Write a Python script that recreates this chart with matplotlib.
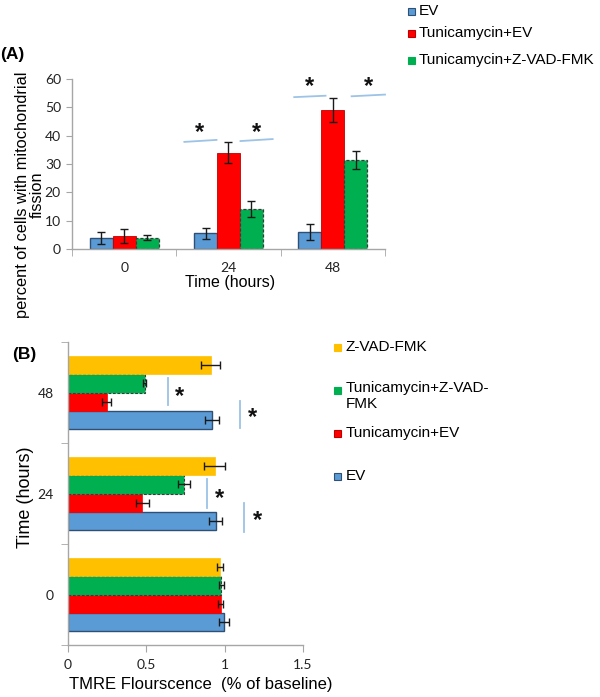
import matplotlib
matplotlib.use("Agg")
import matplotlib.pyplot as plt
import numpy as np
from matplotlib.patches import Rectangle

plt.rcParams['font.family'] = ['Liberation Sans', 'DejaVu Sans']

# ---------------- data ----------------
timepoints = ['0', '24', '48']

# Panel A: percent of cells with mitochondrial fission
a_series = ['EV', 'Tunicamycin+EV', 'Tunicamycin+Z-VAD-FMK']
a_ev = [4.0, 5.5, 6.0]
a_ev_err = [2.1, 2.0, 2.7]
a_tun = [4.6, 34.0, 49.2]
a_tun_err = [2.6, 3.7, 4.2]
a_tz = [4.0, 14.1, 31.5]
a_tz_err = [0.9, 2.8, 3.1]
a_yticks = [0, 10, 20, 30, 40, 50, 60]

# Panel B: TMRE fluorescence (fraction of baseline)
b_series = ['EV', 'Tunicamycin+EV', 'Tunicamycin+Z-VAD-FMK', 'Z-VAD-FMK']
b_ev = [0.996, 0.943, 0.919]
b_ev_err = [0.03, 0.042, 0.045]
b_tun = [0.975, 0.476, 0.250]
b_tun_err = [0.018, 0.042, 0.028]
b_tz = [0.979, 0.743, 0.493]
b_tz_err = [0.015, 0.040, 0.010]
b_z = [0.970, 0.938, 0.913]
b_z_err = [0.018, 0.066, 0.060]
b_xticks = [0, 0.5, 1, 1.5]
b_xticklabels = ['0', '0.5', '1', '1.5']

# ---------------- style ----------------
C_BLUE = '#5B9BD5'
C_RED = '#FF0000'
C_GREEN = '#00B050'
C_YEL = '#FFC000'
E_BLUE = '#2F4F75'
E_GREEN = '#3A3A3A'
SIG = '#9DC3E6'
AXC = '#A6A6A6'
TICKFONT = 'Lato'

W, H = 600, 697
fig = plt.figure(figsize=(W / 100, H / 100), dpi=100)


def fx(px):
    return px / W


def fy(py):
    return 1 - py / H


# ================= Panel A =================
axA = fig.add_axes([fx(72), fy(249), fx(385 - 72), (249 - 79) / H])
x = np.arange(len(timepoints))
bw = 0.22
errkw = dict(ecolor='#1a1a1a', elinewidth=1.0, capsize=3, capthick=1.0)
axA.bar(x - bw, a_ev, bw, yerr=a_ev_err, color=C_BLUE, edgecolor=E_BLUE,
        linewidth=1.0, error_kw=errkw, zorder=2)
axA.bar(x, a_tun, bw, yerr=a_tun_err, color=C_RED, edgecolor='#C00000',
        linewidth=0.6, error_kw=errkw, zorder=2)
axA.bar(x + bw, a_tz, bw, yerr=a_tz_err, color=C_GREEN, edgecolor=E_GREEN,
        linewidth=0.9, linestyle=(0, (2.5, 1.5)), error_kw=errkw, zorder=2)

axA.set_xlim(-0.5, 2.5)
axA.set_ylim(0, 60)
axA.set_yticks(a_yticks)
axA.set_xticks(x)
axA.set_xticklabels(timepoints)
axA.set_xticks([-0.5, 0.5, 1.5, 2.5], minor=True)
axA.tick_params(axis='x', which='major', length=0, pad=9.5)
axA.tick_params(axis='x', which='minor', length=5, color=AXC, direction='out')
axA.tick_params(axis='y', length=4, color=AXC, pad=4)
for lab in axA.get_xticklabels() + axA.get_yticklabels():
    lab.set_fontfamily(TICKFONT)
    lab.set_fontsize(10)
    lab.set_color('#222222')
for s in ['top', 'right']:
    axA.spines[s].set_visible(False)
for s in ['left', 'bottom']:
    axA.spines[s].set_color(AXC)
    axA.spines[s].set_linewidth(1.0)

axA.set_xlabel('Time (hours)', fontsize=11.5)
axA.xaxis.set_label_coords((230 - 72) / 313, (249 - 283) / 170)
axA.xaxis.label.set_va('center')
axA.set_ylabel('percent of cells with mitochondrial\nfission', fontsize=11.8,
               linespacing=0.95)
axA.yaxis.set_label_coords((30 - 72) / 313, (249 - 195) / 170)
axA.yaxis.label.set_va('center')

# significance marks panel A
sigA_lines = [((0.577, 0.885), (37.8, 38.5)), ((1.115, 1.423), (38.1, 38.8)),
              ((1.63, 1.93), (53.6, 54.1)), ((2.18, 2.50), (53.9, 54.5))]
sigA_stars = [(0.72, 41.0), (1.27, 41.0), (1.78, 57.3), (2.34, 57.3)]
for xs, ys in sigA_lines:
    axA.plot(xs, ys, color=SIG, lw=1.3, clip_on=False, zorder=3)
for sx, sy in sigA_stars:
    axA.text(sx, sy, '*', ha='center', va='center', fontsize=17,
             fontweight='bold', color='#111111', clip_on=False)

fig.text(fx(0), fy(55), '(A)', fontsize=12.5, fontweight='bold',
         ha='left', va='center')

# legend A
legA_y = [11, 33.5, 60]
legA_face = [C_BLUE, C_RED, C_GREEN]
legA_edge = [E_BLUE, '#C00000', C_GREEN]
for lab, yy, fc, ec in zip(a_series, legA_y, legA_face, legA_edge):
    fig.add_artist(Rectangle((fx(407.5), fy(yy + 3.5)), fx(7), 7 / H,
                             facecolor=fc, edgecolor=ec, lw=0.8,
                             transform=fig.transFigure))
    fig.text(fx(419), fy(yy), lab, fontsize=11, ha='left', va='center')

# ================= Panel B =================
axB = fig.add_axes([fx(67.5), fy(645), fx(303 - 67.5), (645 - 342) / H])
bh = 0.182
errkwB = dict(ecolor='#1a1a1a', elinewidth=1.0, capsize=3, capthick=1.0)
axB.barh(x - 1.5 * bh, b_ev, bh, xerr=b_ev_err, color=C_BLUE,
         edgecolor=E_BLUE, linewidth=1.0, error_kw=errkwB, zorder=2)
axB.barh(x - 0.5 * bh, b_tun, bh, xerr=b_tun_err, color=C_RED,
         edgecolor=C_RED, linewidth=0.5, error_kw=errkwB, zorder=2)
axB.barh(x + 0.5 * bh, b_tz, bh, xerr=b_tz_err, color=C_GREEN,
         edgecolor=E_GREEN, linewidth=0.8, linestyle=(0, (2.5, 1.5)),
         error_kw=errkwB, zorder=2)
axB.barh(x + 1.5 * bh, b_z, bh, xerr=b_z_err, color=C_YEL,
         edgecolor=C_YEL, linewidth=0.5, error_kw=errkwB, zorder=2)

axB.set_xlim(0, 1.5)
axB.set_ylim(-0.5, 2.5)
axB.set_xticks(b_xticks)
axB.set_xticklabels(b_xticklabels)
axB.set_yticks(x)
axB.set_yticklabels(timepoints)
axB.set_yticks([-0.5, 0.5, 1.5, 2.5], minor=True)
axB.tick_params(axis='y', which='major', length=0, pad=10)
axB.tick_params(axis='y', which='minor', length=5, color=AXC)
axB.tick_params(axis='x', length=5, color=AXC, pad=5)
for lab in axB.get_xticklabels() + axB.get_yticklabels():
    lab.set_fontfamily(TICKFONT)
    lab.set_fontsize(10)
    lab.set_color('#222222')
for s in ['top', 'right']:
    axB.spines[s].set_visible(False)
for s in ['left', 'bottom']:
    axB.spines[s].set_color(AXC)
    axB.spines[s].set_linewidth(1.0)

axB.set_xlabel('TMRE Flourscence  (% of baseline)', fontsize=12)
axB.xaxis.set_label_coords((201 - 67.5) / 235.5, (645 - 685) / 303)
axB.xaxis.label.set_va('center')
axB.set_ylabel('Time (hours)', fontsize=13)
axB.yaxis.set_label_coords((25 - 67.5) / 235.5, (645 - 497) / 303)
axB.yaxis.label.set_va('center')

# significance marks panel B
sigB_lines = [(0.637, (1.88, 2.14)), (1.096, (1.65, 1.92)),
              (0.886, (0.86, 1.14)), (1.127, (0.62, 0.91))]
sigB_stars = [(0.715, 1.96), (1.18, 1.75), (0.97, 0.95), (1.21, 0.73)]
for xv, ys in sigB_lines:
    axB.plot([xv, xv], ys, color=SIG, lw=1.3, zorder=3)
for sx, sy in sigB_stars:
    axB.text(sx, sy, '*', ha='center', va='center', fontsize=17,
             fontweight='bold', color='#111111')

fig.text(fx(12), fy(355), '(B)', fontsize=12.5, fontweight='bold',
         ha='left', va='center')

# legend B (top to bottom)
legB_labels = ['Z-VAD-FMK', 'Tunicamycin+Z-VAD-\nFMK', 'Tunicamycin+EV', 'EV']
legB_y = [347, 390, 433, 476]
legB_face = [C_YEL, C_GREEN, C_RED, C_BLUE]
legB_edge = [C_YEL, C_GREEN, '#C00000', E_BLUE]
for lab, yy, fc, ec in zip(legB_labels, legB_y, legB_face, legB_edge):
    fig.add_artist(Rectangle((fx(333.5), fy(yy + 3.5)), fx(7), 7 / H,
                             facecolor=fc, edgecolor=ec, lw=0.8,
                             transform=fig.transFigure))
    if '\n' in lab:
        fig.text(fx(346), fy(yy - 9), lab, fontsize=11, ha='left', va='top',
                 linespacing=1.15)
    else:
        fig.text(fx(346), fy(yy), lab, fontsize=11, ha='left', va='center')

fig.savefig('out.png', dpi=100)
